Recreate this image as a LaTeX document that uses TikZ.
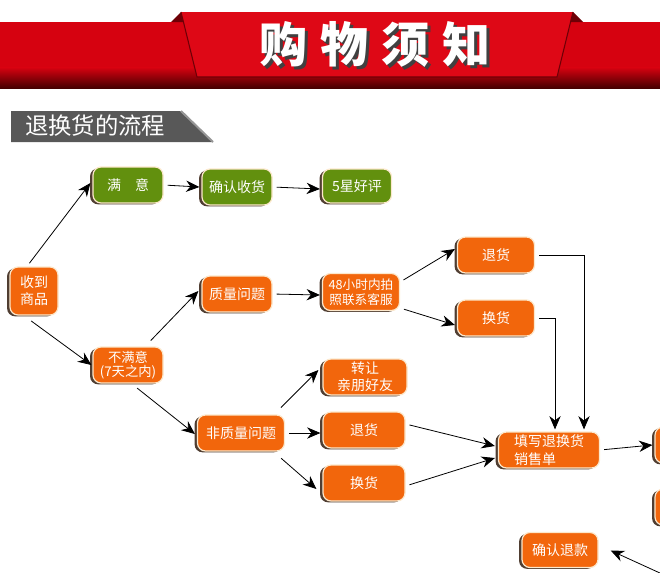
\documentclass[tikz,border=0pt]{standalone}
\usepackage{fontspec}
\setmainfont{Noto Sans CJK SC}
\usetikzlibrary{arrows.meta,shadows,calc}
\definecolor{bannerred}{RGB}{214,2,16}
\definecolor{bannerlight}{RGB}{222,8,22}
\definecolor{bannerdark}{RGB}{70,0,0}
\definecolor{bannerfold}{RGB}{110,0,6}
\definecolor{tabgray}{RGB}{88,88,88}
\definecolor{tablight}{RGB}{150,150,150}
\definecolor{flowor}{RGB}{242,102,12}
\definecolor{leafgreen}{RGB}{98,144,14}
\definecolor{cream}{RGB}{252,232,204}
\definecolor{shadowc}{RGB}{80,62,50}
\begin{document}
\begin{tikzpicture}[x=0.75pt,y=0.75pt,yscale=-1,xscale=1,
    box/.style={rectangle, rounded corners=6pt, draw=cream, line width=0.9pt, text=white,
      minimum width=52.5pt, minimum height=27pt, inner sep=1pt, align=center,
      font=\fontsize{10.5}{13}\selectfont,
      drop shadow={shadow xshift=-2.2pt, shadow yshift=-1pt, fill=shadowc, opacity=1}},
    gbox/.style={box, fill=leafgreen},
    obox/.style={box, fill=flowor},
    flow/.style={-{Stealth[length=10pt,width=8.5pt]}, line width=0.6pt, shorten <=3pt}]
\useasboundingbox (0,0) rectangle (660,572);
\clip (0,0) rectangle (660,572);
\fill[white] (0,0) rectangle (660,572);
\fill[bannerred] (0,22) rectangle (660,68);
\shade[top color=bannerred, bottom color=bannerdark] (0,67.5) rectangle (660,88);
\fill[bannerfold] (171,22) -- (181,12) -- (185,22) -- cycle;
\fill[bannerfold] (583,22) -- (573,12) -- (569,22) -- cycle;
\fill[bannerlight] (181,12) -- (573,12) -- (557,77) -- (197,77) -- cycle;
\draw[bannerfold, line width=0.8pt] (181,12) -- (197,77) -- (557,77) -- (573,12);
\node[text=black!75, font=\fontsize{36}{36}\bfseries] (titleshadow) at (378,47) {购\hspace{10pt}物\hspace{10pt}须\hspace{10pt}知};
\node[text=white, font=\fontsize{36}{36}\bfseries] (title) at (375,44) {购\hspace{10pt}物\hspace{10pt}须\hspace{10pt}知};
\fill[tabgray] (11,111) -- (180,111) -- (213,142) -- (11,142) -- cycle;
\draw[tablight, line width=1.5pt] (181,111) -- (213,142);
\node[anchor=west, text=white, font=\fontsize{17.5}{18}\selectfont, inner sep=0pt] (tabtext) at (25,126) {退换货的流程};
\node[obox, minimum width=36pt, minimum height=36pt] (recv) at (34,291) {收到\\商品};
\node[gbox] (ok) at (128,185) {满\hspace{1em}意};
\node[gbox] (confirm) at (237,187) {确认收货};
\node[gbox, minimum width=51.75pt, minimum height=25.5pt] (star) at (357,186) {5星好评};
\node[obox] (quality) at (237,294) {质量问题};
\node[obox, minimum width=57.75pt, minimum height=27.75pt, font=\fontsize{9.5}{11.5}\selectfont] (h48) at (361,292) {48小时内拍\\照联系客服};
\node[obox, minimum width=57.75pt] (retA) at (496,255) {退货};
\node[obox, minimum width=57.75pt] (excA) at (496,318) {换货};
\node[obox, font=\fontsize{10}{11}\selectfont] (notok) at (128,365) {不满意\\(7天之内)};
\node[obox, minimum width=65.25pt] (nonq) at (241,433) {非质量问题};
\node[obox, minimum width=63pt] (transfer) at (365,377) {转让\\亲朋好友};
\node[obox, minimum width=61.5pt] (retB) at (364,430) {退货};
\node[obox, minimum width=61.5pt] (excB) at (364,483) {换货};
\node[obox, minimum width=75.75pt, align=left] (form) at (549,450) {填写退换货\\销售单};
\node[obox, minimum width=57pt, minimum height=26.25pt] (refund) at (560,550) {确认退款};
\node[obox] (nextA) at (690,445) {};
\node[obox] (nextB) at (690,507) {};
\coordinate (off) at (684,584);
\draw[flow] ($(recv.north)+(-7,0)$) -- ($(ok.west)+(-2,-2)$);
\draw[flow] ($(recv.south)+(-6,3)$) -- ($(notok.west)+(-1,0)$);
\draw[flow] (ok.east) -- ($(confirm.west)+(-2,0)$);
\draw[flow] (confirm.east) -- ($(star.west)+(-2,3)$);
\draw[flow] ($(notok.north)+(20,-3)$) -- ($(quality.west)+(-3,-3)$);
\draw[flow] ($(notok.south)+(6,2)$) -- ($(nonq.west)+(-2,1)$);
\draw[flow] (quality.east) -- ($(h48.west)+(-2,3)$);
\draw[flow] ($(h48.east)+(0,-10)$) -- ($(retA.west)+(-2,-6)$);
\draw[flow] ($(h48.east)+(0,16)$) -- ($(excA.west)+(-2,7)$);
\draw[flow] (retA.east) -| ($(form.north)+(35,-2)$);
\draw[flow] (excA.east) -| ($(form.north)+(6,-2)$);
\draw[flow] ($(nonq.north east)+(-7,-4)$) -- ($(transfer.west)+(-4,-7)$);
\draw[flow] (nonq.east) -- ($(retB.west)+(-2,3)$);
\draw[flow] ($(nonq.south east)+(-7,4)$) -- ($(excB.west)+(-6,6)$);
\draw[flow] ($(retB.east)+(0,-6)$) -- ($(form.west)+(-3,-4)$);
\draw[flow] ($(excB.east)+(0,3)$) -- ($(form.west)+(-3,8)$);
\draw[flow] (form.east) -- ($(nextA.west)+(-2,0)$);
\draw[flow, shorten >=10pt] (off) -- ($(refund.east)+(0,-5)$);
\end{tikzpicture}
\end{document}
